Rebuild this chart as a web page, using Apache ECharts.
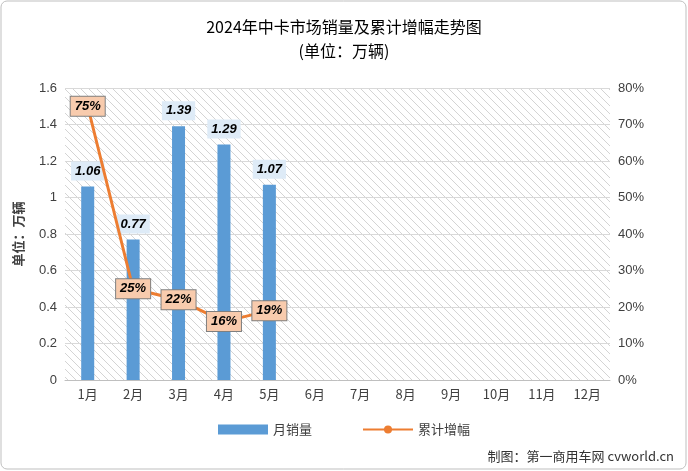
<!DOCTYPE html>
<html><head><meta charset="utf-8">
<script src="https://cdn.jsdelivr.net/npm/echarts@6/dist/echarts.min.js"></script>
<style>html,body{margin:0;padding:0;background:#fff}#c{width:688px;height:471px;}</style>
</head><body><div id="c"></div>
<script>
var categories=['1月','2月','3月','4月','5月','6月','7月','8月','9月','10月','11月','12月'];
var sales=[1.06,0.77,1.39,1.29,1.07];
var growth=[75,25,22,16,19];
var leftTicks=[0,0.2,0.4,0.6,0.8,1,1.2,1.4,1.6];

var cv=document.createElement('canvas');cv.width=8;cv.height=8;
var g=cv.getContext('2d');g.fillStyle='#fff';g.fillRect(0,0,8,8);
g.strokeStyle='#d4d4d4';g.lineWidth=1;
g.beginPath();g.moveTo(0,0);g.lineTo(8,8);g.moveTo(-4,4);g.lineTo(4,12);g.moveTo(4,-4);g.lineTo(12,4);g.stroke();

var chart=echarts.init(document.getElementById('c'));
chart.setOption({
 animation:false,
 graphic:[{type:'rect',shape:{x:1,y:1,width:685,height:468,r:6},style:{fill:'none',stroke:'#bfbfbf',lineWidth:1}},
  {type:'text',right:14,bottom:8,style:{text:'制图：第一商用车网 cvworld.cn',font:'13px "Noto Sans CJK SC"',fill:'#333'}}],
 title:{text:'2024年中卡市场销量及累计增幅走势图\n(单位：万辆)',left:'center',top:10,
  textStyle:{fontSize:16,fontWeight:'normal',color:'#000',lineHeight:24,fontFamily:'Noto Sans CJK SC'}},
 grid:{left:65,right:78,top:88,bottom:91,show:true,borderWidth:0,backgroundColor:{image:cv,repeat:'repeat'}},
 legend:{bottom:30,left:'center',itemGap:50,itemWidth:50,itemHeight:10,textStyle:{fontSize:13,color:'#404040',fontFamily:'Noto Sans CJK SC'},
  data:[{name:'月销量',icon:'rect'},{name:'累计增幅'}]},
 xAxis:{type:'category',data:categories,axisTick:{show:false},axisLine:{lineStyle:{color:'#bfbfbf'}},
  axisLabel:{color:'#404040',fontSize:13,fontFamily:'Noto Sans CJK SC'}},
 yAxis:[{type:'value',min:0,max:1.6,interval:0.2,name:'单位：万辆',nameLocation:'middle',nameGap:40,
   nameTextStyle:{color:'#404040',fontSize:13,fontWeight:'bold',fontFamily:'Noto Sans CJK SC'},
   axisLabel:{color:'#404040',fontSize:13,formatter:function(v){return String(Math.round(v*10)/10);}},
   splitLine:{lineStyle:{color:'#d9d9d9'}},axisLine:{show:false}},
  {type:'value',min:0,max:80,interval:10,axisLabel:{color:'#404040',fontSize:13,formatter:'{value}%'},splitLine:{show:false},axisLine:{show:false}}],
 series:[{name:'月销量',type:'bar',data:sales,barWidth:13,itemStyle:{color:'#5B9BD5'},
   label:{show:true,position:'top',distance:6,fontWeight:'bold',fontStyle:'italic',fontSize:13,color:'#000',
    backgroundColor:'#DEEBF7',padding:[3,4]}},
  {name:'累计增幅',type:'line',yAxisIndex:1,data:growth,symbol:'circle',symbolSize:1,showSymbol:true,lineStyle:{color:'#ED7D31',width:3},itemStyle:{color:'#ED7D31'},
   label:{show:true,position:'inside',formatter:'{c}%',fontWeight:'bold',fontStyle:'italic',fontSize:13,color:'#000',
    backgroundColor:'#F8CBAD',borderColor:'#7f7f7f',borderWidth:1,padding:[3,4]}}]
});
</script></body></html>
